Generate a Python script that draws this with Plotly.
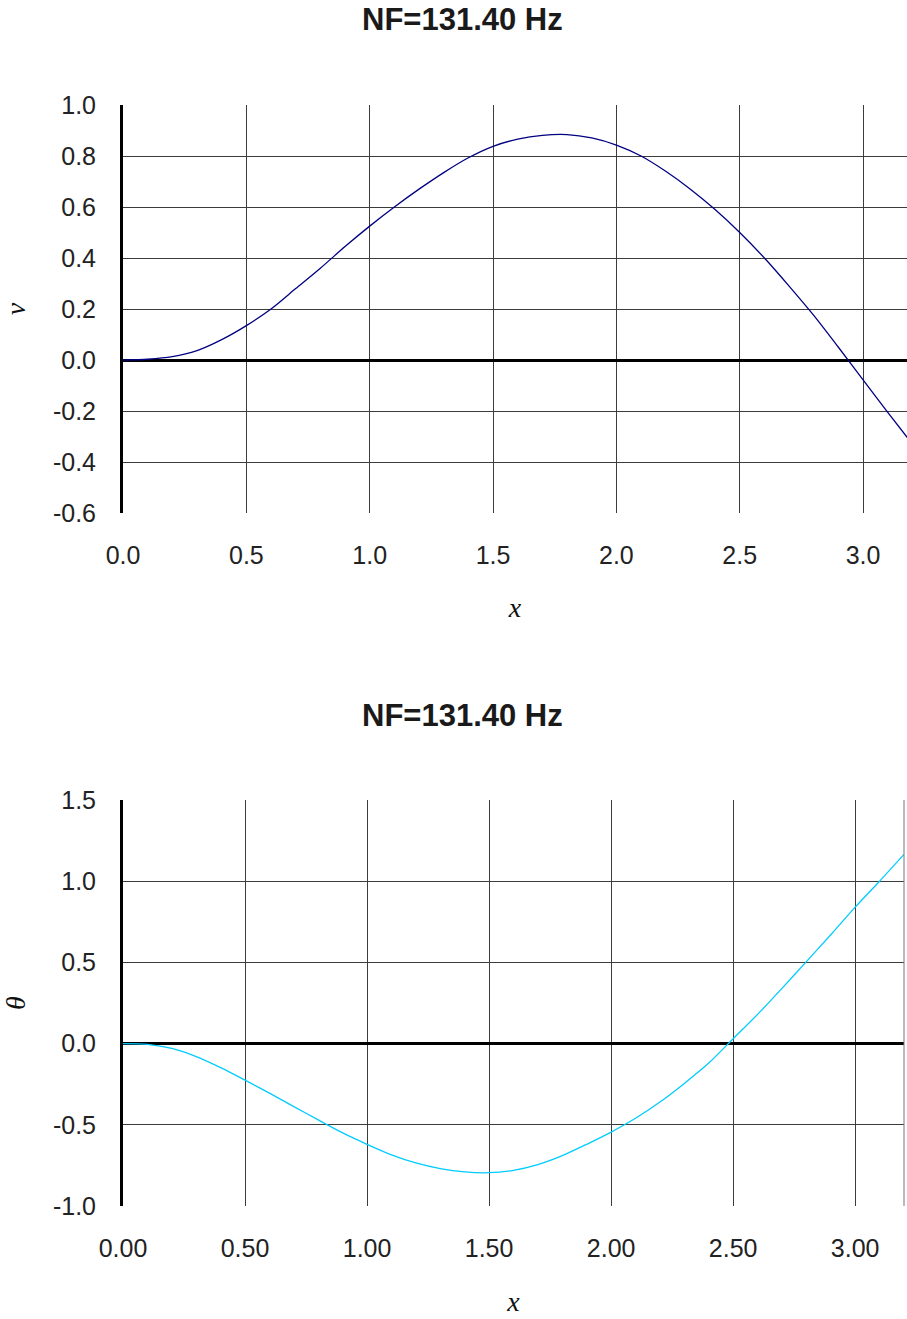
import plotly.graph_objects as go

# Mode shape sampled along the beam
x_pos = [0.0, 0.1, 0.2, 0.3, 0.4, 0.5, 0.6, 0.7, 0.8, 0.9, 1.0, 1.1, 1.2, 1.3, 1.4, 1.5,
         1.6, 1.7, 1.8, 1.9, 2.0, 2.1, 2.2, 2.3, 2.4, 2.5, 2.6, 2.7, 2.8, 2.9, 3.0, 3.1, 3.2]

# Transverse displacement v(x)
v_vals = [0.0, 0.003, 0.013, 0.037, 0.08, 0.135, 0.20, 0.28, 0.36, 0.445, 0.525, 0.60, 0.67,
          0.735, 0.793, 0.838, 0.866, 0.881, 0.884, 0.871, 0.843, 0.80, 0.74, 0.67, 0.59,
          0.50, 0.40, 0.29, 0.175, 0.05, -0.078, -0.205, -0.33]

# Rotation theta(x)
theta_vals = [0.0, -0.005, -0.03, -0.08, -0.148, -0.225, -0.305, -0.388, -0.47, -0.55, -0.62,
              -0.685, -0.735, -0.77, -0.79, -0.795, -0.78, -0.745, -0.69, -0.62, -0.545,
              -0.46, -0.36, -0.245, -0.12, 0.03, 0.18, 0.34, 0.505, 0.67, 0.84, 1.0, 1.165]

title_text = "NF=131.40 Hz"
top_xticks = [0.0, 0.5, 1.0, 1.5, 2.0, 2.5, 3.0]
top_yticks = [-0.6, -0.4, -0.2, 0.0, 0.2, 0.4, 0.6, 0.8, 1.0]
bot_xticks = [0.0, 0.5, 1.0, 1.5, 2.0, 2.5, 3.0]
bot_yticks = [-1.0, -0.5, 0.0, 0.5, 1.0, 1.5]

W, H = 907, 1319
SANS = "Liberation Sans, Arial, sans-serif"
SERIF = "Liberation Serif, Times New Roman, serif"


def labels(vals, fmt):
    # plain hyphen for negatives
    return [format(v, fmt).replace("\u2212", "-") for v in vals]


fig = go.Figure()
fig.add_trace(go.Scatter(x=x_pos, y=v_vals, mode="lines",
                         line=dict(color="#000080", width=1.3, shape="spline", smoothing=0.8),
                         xaxis="x", yaxis="y", showlegend=False))
fig.add_trace(go.Scatter(x=x_pos, y=theta_vals, mode="lines",
                         line=dict(color="#00CCFF", width=1.3, shape="spline", smoothing=0.8),
                         xaxis="x2", yaxis="y2", showlegend=False))

left = 123 / W
tick_font = dict(family=SANS, size=25, color="#222222")
axis_title_font = dict(family=SERIF, size=28, color="#111111")

common_x = dict(showgrid=True, gridcolor="#3c3c3c", gridwidth=1, zeroline=False,
                showline=False, ticks="", tickfont=tick_font, ticklabelstandoff=25,
                automargin=False)
common_y = dict(showgrid=True, gridcolor="#3c3c3c", gridwidth=1, zeroline=True,
                zerolinecolor="#000000", zerolinewidth=3, showline=True,
                linecolor="#000000", linewidth=3, ticks="", tickfont=tick_font,
                ticklabelstandoff=19, automargin=False)

fig.update_layout(
    width=W, height=H,
    margin=dict(l=0, r=0, t=0, b=0, autoexpand=False),
    paper_bgcolor="white", plot_bgcolor="white",
    xaxis=dict(domain=[left, 1.0], anchor="y", range=[0, 3.178],
               tickvals=top_xticks, ticktext=labels(top_xticks, ".1f"),
               title=dict(text="<i>x</i>", font=axis_title_font, standoff=29),
               **common_x),
    yaxis=dict(domain=[1 - 513 / H, 1 - 105 / H], anchor="x", range=[-0.6, 1.0],
               tickvals=top_yticks, ticktext=labels(top_yticks, ".1f"),
               title=dict(text="<i>v</i>", font=axis_title_font, standoff=26),
               **common_y),
    xaxis2=dict(domain=[left, 904 / W], anchor="y2", range=[0, 3.2],
                tickvals=bot_xticks, ticktext=labels(bot_xticks, ".2f"),
                title=dict(text="<i>x</i>", font=axis_title_font, standoff=30),
                **common_x),
    yaxis2=dict(domain=[1 - 1206 / H, 1 - 800 / H], anchor="x2", range=[-1.0, 1.5],
                tickvals=bot_yticks, ticktext=labels(bot_yticks, ".1f"),
                title=dict(text="<i>θ</i>", font=axis_title_font, standoff=26),
                **common_y),
)

# Right-hand frame edge of the lower plot
fig.add_shape(type="line", xref="x2 domain", yref="y2 domain",
              x0=1, x1=1, y0=0, y1=1, line=dict(color="#777777", width=1))

for ytop in (20, 715):
    fig.add_annotation(text="<b>" + title_text + "</b>", xref="paper", yref="paper",
                       x=462 / W, y=1 - ytop / H, showarrow=False,
                       font=dict(family=SANS, size=31, color="#1a1a1a"),
                       xanchor="center", yanchor="middle")

fig.write_html("out.html")
